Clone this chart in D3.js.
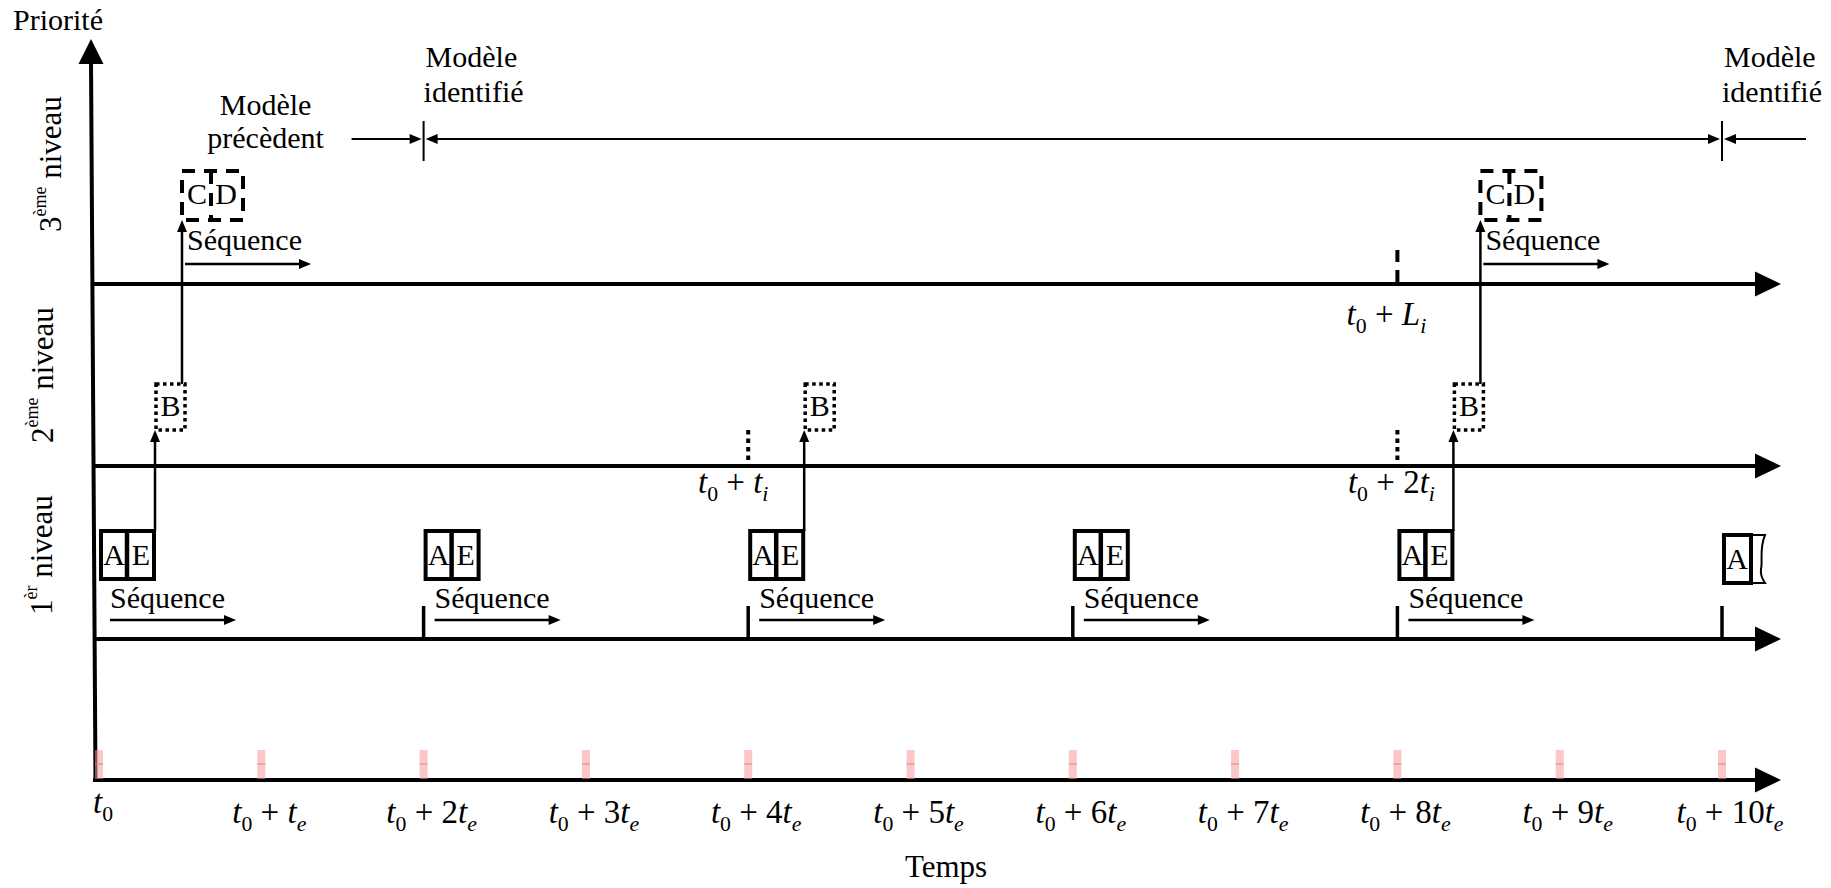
<!DOCTYPE html>
<html><head><meta charset="utf-8">
<script src="https://cdn.jsdelivr.net/npm/d3@7"></script>
<style>
body{margin:0;background:#fff}
svg{display:block}
text{font-family:"Liberation Serif","Times New Roman","DejaVu Serif",serif;fill:#000}
</style>
</head><body>
<svg id="c" width="1831" height="888" font-family="Liberation Serif, Times New Roman, serif"></svg>
<script>
// ---------------- data ----------------
const stepValues = [0,1,2,3,4,5,6,7,8,9,10];          // multiples of t_e on the time axis
const stepCoefs  = ["", "", "2","3","4","5","6","7","8","9","10"];
const level1Events = [0,2,4,6,8,10];                   // A|E boxes on the 1st level
const level1Cells  = [["A","E"],["A","E"],["A","E"],["A","E"],["A","E"],["A",""]];
const level1Sequences = [0,2,4,6,8];                   // "Séquence" arrows on the 1st level
const level1Ticks  = [2,4,6,8,10];
const level2Events = [0,4,8];                          // B boxes on the 2nd level
const level2Cells  = ["B","B","B"];
const level3Events = [0,8];                            // C D boxes on the 3rd level
const level3Cells  = [["C","D"],["C","D"]];
const level2Marks     = [4,8];                         // t0 + t_i , t0 + 2t_i
const level2MarkCoefs = ["","2"];
const level3Marks     = [8];                           // t0 + L_i
const level3MarkSyms  = ["L"];
const modelChanges = [2,10];                           // "Modèle identifié"
const levelKeys  = ["1","2","3"];
const levelNums  = ["1","2","3"];
const levelSups  = ["èr","ème","ème"];
const levelWord  = "niveau";

// ---------------- scales ----------------
const svg = d3.select("#c");
const x = d3.scaleLinear().domain([0,10]).range([99,1722]);
const y = d3.scaleOrdinal().domain(["t","1","2","3"]).range([780,639,466,284]);

const AX_START = 93, AX_TIP = 1781;

function tri(g, tx, ty, dir, len, hw){
  let pts;
  if(dir==="r") pts=[[tx,ty],[tx-len,ty-hw],[tx-len,ty+hw]];
  if(dir==="l") pts=[[tx,ty],[tx+len,ty-hw],[tx+len,ty+hw]];
  if(dir==="u") pts=[[tx,ty],[tx-hw,ty+len],[tx+hw,ty+len]];
  g.append("path").attr("d","M"+pts.map(p=>p.join(",")).join("L")+"Z").attr("fill","#000");
}
function arrow(g,x1,y1,x2,y2,dir,sw,len,hw){
  let ex=x2, ey=y2;
  if(dir==="r") ex=x2-len+1; if(dir==="l") ex=x2+len-1; if(dir==="u") ey=y2+len-1;
  g.append("line").attr("x1",x1).attr("y1",y1).attr("x2",ex).attr("y2",ey)
   .attr("stroke","#000").attr("stroke-width",sw);
  tri(g,x2,y2,dir,len,hw);
}
function math(g, px, py, anchor, parts, fs){
  const t = g.append("text").attr("x",px).attr("y",py).attr("text-anchor",anchor)
    .style("font-size",fs+"px").style("white-space","pre");
  let shifted = 0;
  parts.forEach(p=>{
    const ts = t.append("tspan").text(p.t);
    if(p.i) ts.style("font-style","italic");
    const target = p.sub ? fs*0.25 : 0;
    if(target!==shifted){ ts.attr("dy", target-shifted); shifted = target; }
    if(p.sub) ts.style("font-size",(fs*0.66)+"px");
  });
  return t;
}

const g = svg.append("g");

// ---------------- axes ----------------
g.append("line").attr("x1",91).attr("y1",60).attr("x2",95.5).attr("y2",782)
  .attr("stroke","#000").attr("stroke-width",4);
tri(g,91,39,"u",25,12.5);
g.append("text").attr("x",13).attr("y",30).style("font-size","30px").text("Priorité");

["t","1","2","3"].forEach(k=>{
  const yy = y(k);
  g.append("line").attr("x1",AX_START).attr("y1",yy).attr("x2",AX_TIP-24).attr("y2",yy)
    .attr("stroke","#000").attr("stroke-width",4);
  tri(g,AX_TIP,yy,"r",26,12.5);
});

// pink tick marks on the time axis
const pink = g.append("g");
stepValues.forEach(k=>{
  pink.append("rect").attr("x",x(k)-4).attr("y",y("t")-30).attr("width",8).attr("height",29)
    .attr("fill","#f59a9a").attr("fill-opacity",0.55);
  pink.append("line").attr("x1",x(k)-4).attr("x2",x(k)+4).attr("y1",y("t")-16).attr("y2",y("t")-16)
    .attr("stroke","#ee7c7c").attr("stroke-width",1);
});

// time tick labels
stepValues.forEach((k,i)=>{
  if(k===0){
    math(g, x(k)-6, 813, "start", [{t:"t",i:1},{t:"0",sub:1}], 33);
  } else {
    math(g, x(k)+8, 823, "middle",
      [{t:"t",i:1},{t:"0",sub:1},{t:" + "},{t:stepCoefs[i]},{t:"t",i:1},{t:"e",i:1,sub:1}], 33);
  }
});
g.append("text").attr("x",946).attr("y",877).attr("text-anchor","middle")
  .style("font-size","31px").text("Temps");

// level labels (rotated)
const levelLabelPos = {"1":[52,615],"2":[53,443],"3":[61,232]};
levelKeys.forEach((k,i)=>{
  const [bx,by] = levelLabelPos[k];
  const t = g.append("text").attr("transform",`translate(${bx},${by}) rotate(-90)`)
    .style("font-size","31px").style("white-space","pre");
  t.append("tspan").text(levelNums[i]);
  t.append("tspan").attr("dy",-15).style("font-size","18px").text(levelSups[i]);
  t.append("tspan").attr("dy",15).text(" "+levelWord);
});

// ---------------- level 1 ----------------
const y1 = y("1");
level1Ticks.forEach(k=>{
  g.append("line").attr("x1",x(k)).attr("x2",x(k)).attr("y1",y1-33).attr("y2",y1)
    .attr("stroke","#000").attr("stroke-width",3.5);
});
level1Sequences.forEach(k=>{
  const x0 = x(k);
  g.append("text").attr("x",x0+11).attr("y",y1-31).style("font-size","30px").text("Séquence");
  arrow(g, x0+11, y1-19, x0+137, y1-19, "r", 2.5, 12, 5);
});
level1Events.forEach((k,i)=>{
  const x0 = x(k);
  const cells = level1Cells[i];
  const top = y1-108, h = 48;
  if(cells[1]!==""){
    g.append("rect").attr("x",x0+2).attr("y",top).attr("width",53).attr("height",h)
      .attr("fill","none").attr("stroke","#000").attr("stroke-width",4);
    g.append("line").attr("x1",x0+28).attr("x2",x0+28).attr("y1",top).attr("y2",top+h)
      .attr("stroke","#000").attr("stroke-width",4.5);
    cells.forEach((c,j)=>{
      g.append("text").attr("x",x0+15+j*27).attr("y",top+34).attr("text-anchor","middle")
        .style("font-size","30px").text(c);
    });
  } else {
    const t2 = top+4;
    g.append("path").attr("d",`M${x0+29},${t2} H${x0+43} C${x0+37},${t2+14} ${x0+41},${t2+26} ${x0+39},${t2+34} C${x0+38},${t2+40} ${x0+41},${t2+45} ${x0+43},${t2+h} H${x0+29}`)
      .attr("fill","none").attr("stroke","#000").attr("stroke-width",2);
    g.append("rect").attr("x",x0+2).attr("y",t2).attr("width",27).attr("height",h)
      .attr("fill","none").attr("stroke","#000").attr("stroke-width",4);
    g.append("text").attr("x",x0+15).attr("y",t2+34).attr("text-anchor","middle")
      .style("font-size","30px").text(cells[0]);
  }
});

// ---------------- level 2 ----------------
const y2 = y("2");
level2Marks.forEach((k,i)=>{
  g.append("line").attr("x1",x(k)).attr("x2",x(k)).attr("y1",y2-36).attr("y2",y2)
    .attr("stroke","#000").attr("stroke-width",4).attr("stroke-dasharray","4.5,4");
  math(g, x(k)-(i===0?15:6), y2+27, "middle",
    [{t:"t",i:1},{t:"0",sub:1},{t:" + "},{t:level2MarkCoefs[i]},{t:"t",i:1},{t:"i",i:1,sub:1}], 33);
});
level2Events.forEach((k,i)=>{
  const x0 = x(k);
  const top = y2-82, h = 46;
  arrow(g, x0+56, y1-108, x0+56, top+h, "u", 2.5, 12, 5);
  g.append("rect").attr("x",x0+57).attr("y",top).attr("width",29).attr("height",h)
    .attr("fill","none").attr("stroke","#000").attr("stroke-width",3.5).attr("stroke-dasharray","3.5,3.5");
  g.append("text").attr("x",x0+71.5).attr("y",top+32).attr("text-anchor","middle")
    .style("font-size","30px").text(level2Cells[i]);
});

// ---------------- level 3 ----------------
const y3 = y("3");
level3Marks.forEach((k,i)=>{
  g.append("line").attr("x1",x(k)).attr("x2",x(k)).attr("y1",y3-34).attr("y2",y3)
    .attr("stroke","#000").attr("stroke-width",4).attr("stroke-dasharray","12,8");
  math(g, x(k)-11, y3+41, "middle",
    [{t:"t",i:1},{t:"0",sub:1},{t:" + "},{t:level3MarkSyms[i],i:1},{t:"i",i:1,sub:1}], 33);
});
level3Events.forEach((k,i)=>{
  const x0 = x(k);
  const top = y3-113, h = 49;
  arrow(g, x0+83, y2-82, x0+83, top+h, "u", 2.5, 12, 5);
  g.append("path").attr("d",`M${x0+83},${top} H${x0+144} V${top+h} H${x0+83} Z M${x0+112},${top} V${top+h}`)
    .attr("fill","none").attr("stroke","#000").attr("stroke-width",4).attr("stroke-dasharray","13,9");
  level3Cells[i].forEach((c,j)=>{
    g.append("text").attr("x",x0+98+j*29).attr("y",top+33).attr("text-anchor","middle")
      .style("font-size","30px").text(c);
  });
  g.append("text").attr("x",x0+88).attr("y",y3-34).style("font-size","30px").text("Séquence");
  arrow(g, x0+86, y3-20, x0+212, y3-20, "r", 2.5, 12, 5);
});

// ---------------- model identification bracket ----------------
const yb = 139;
const xa = x(modelChanges[0]), xb = x(modelChanges[1]);
modelChanges.forEach(k=>{
  g.append("line").attr("x1",x(k)).attr("x2",x(k)).attr("y1",121).attr("y2",161)
    .attr("stroke","#000").attr("stroke-width",2);
  const t = g.append("text").style("font-size","30px");
  t.append("tspan").attr("x",x(k)+2).attr("y",67).text("Modèle");
  t.append("tspan").attr("x",x(k)).attr("y",102).text("identifié");
});
arrow(g, xa-72, yb, xa-2, yb, "r", 2, 12, 5);
g.append("line").attr("x1",xa+12).attr("x2",xb-12).attr("y1",yb).attr("y2",yb)
  .attr("stroke","#000").attr("stroke-width",2);
tri(g, xa+2, yb, "l", 12, 5);
tri(g, xb-2, yb, "r", 12, 5);
arrow(g, xb+84, yb, xb+2, yb, "l", 2, 12, 5);
const tp = g.append("text").attr("text-anchor","middle").style("font-size","30px");
tp.append("tspan").attr("x",xa-158).attr("y",115).text("Modèle");
tp.append("tspan").attr("x",xa-158).attr("y",148).text("précèdent");
</script>
</body></html>
